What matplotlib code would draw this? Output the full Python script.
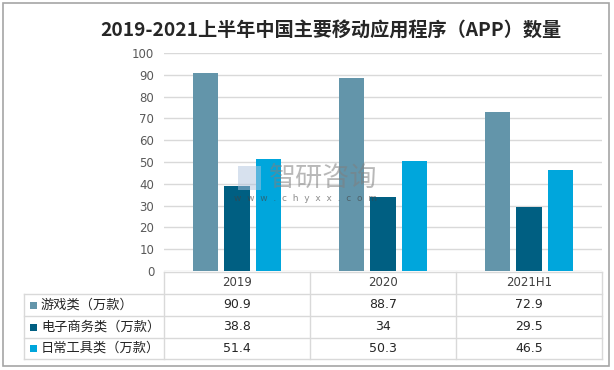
import matplotlib
matplotlib.use("Agg")
import matplotlib.pyplot as plt
from matplotlib.patches import Rectangle
from matplotlib.lines import Line2D

plt.rcParams['font.family'] = ['Noto Sans CJK SC', 'DejaVu Sans']

title = "2019-2021上半年中国主要移动应用程序（APP）数量"
categories = ["2019", "2020", "2021H1"]
series_names = ["游戏类（万款）", "电子商务类（万款）", "日常工具类（万款）"]
game = [90.9, 88.7, 72.9]
ecom = [38.8, 34, 29.5]
tools = [51.4, 50.3, 46.5]
value_labels = [["90.9", "88.7", "72.9"], ["38.8", "34", "29.5"], ["51.4", "50.3", "46.5"]]
yticks = [0, 10, 20, 30, 40, 50, 60, 70, 80, 90, 100]
colors = ["#6395AA", "#005F82", "#00A6DC"]

W, H = 614, 370
fig = plt.figure(figsize=(W / 100, H / 100), dpi=100)

def fx(px):
    return px / W

def fy(py):
    return 1 - py / H

# outer border
fig.patches.append(Rectangle((fx(3), fy(366)), fx(606), (363) / H, transform=fig.transFigure,
                             fill=False, edgecolor="#A6A6A6", linewidth=1.2))

x_left, x_right = 164, 602
y_top, y_zero = 53, 271
ax = fig.add_axes([fx(x_left), fy(y_zero), fx(x_right - x_left), (y_zero - y_top) / H])
series = [game, ecom, tools]
n = len(categories)
bw = 0.172
step = 0.218
for i, vals in enumerate(series):
    xs = [c + (i - 1) * step for c in range(n)]
    ax.bar(xs, vals, width=bw, color=colors[i], zorder=3)
ax.set_xlim(-0.5, n - 0.5)
ax.set_ylim(0, 100)
ax.set_yticks(yticks)
ax.set_yticklabels([str(t) for t in yticks], fontsize=8.5, color="#595959", family="DejaVu Sans")
ax.tick_params(axis='y', length=0, pad=7)
ax.set_xticks([])
ax.grid(axis='y', color="#D9D9D9", linewidth=1, zorder=0)
for s in ax.spines.values():
    s.set_visible(False)

fig.text(fx(331), fy(30), title, ha="center", va="center", fontsize=13.8, fontweight="bold", color="#262626")

# watermark
fig.text(fx(323), fy(178), "智研咨询", ha="center", va="center", fontsize=19.5, color="#7F7F7F", alpha=0.55, zorder=10)
fig.text(fx(305), fy(199), "w  w  w  .  c  h  y  x  x  .  c  o  m", ha="center", va="center", fontsize=6.5, color="#404040", alpha=0.6, zorder=10, family="DejaVu Sans")
fig.patches.append(Rectangle((fx(238), fy(190)), fx(23), 24 / H, transform=fig.transFigure,
                             facecolor="#B0C4DE", alpha=0.5, edgecolor="none", zorder=10))

# data table
col_edges = [x_left, 310, 456, x_right]
row_edges = [272, 294, 316, 338, 359]
tab_left = 24
lc = "#D9D9D9"

def hline(y, x0, x1):
    fig.lines.append(Line2D([fx(x0), fx(x1)], [fy(y), fy(y)], transform=fig.transFigure, color=lc, linewidth=1))

def vline(x, y0, y1):
    fig.lines.append(Line2D([fx(x), fx(x)], [fy(y0), fy(y1)], transform=fig.transFigure, color=lc, linewidth=1))

hline(row_edges[0], x_left, x_right)
for y in row_edges[1:]:
    hline(y, tab_left, x_right)
for x in col_edges:
    vline(x, row_edges[0], row_edges[-1])
vline(tab_left, row_edges[1], row_edges[-1])

for j, c in enumerate(categories):
    cx = (col_edges[j] + col_edges[j + 1]) / 2
    cy = (row_edges[0] + row_edges[1]) / 2
    fig.text(fx(cx), fy(cy), c, ha="center", va="center", fontsize=8.5, color="#404040", family="DejaVu Sans")

for i, name in enumerate(series_names):
    cy = (row_edges[i + 1] + row_edges[i + 2]) / 2
    fig.patches.append(Rectangle((fx(30), fy(cy + 3.5)), fx(7), 7 / H, transform=fig.transFigure,
                                 facecolor=colors[i], edgecolor="none"))
    fig.text(fx(41), fy(cy), name, ha="left", va="center", fontsize=9.5, color="#262626")
    for j in range(n):
        cx = (col_edges[j] + col_edges[j + 1]) / 2
        fig.text(fx(cx), fy(cy), value_labels[i][j], ha="center", va="center", fontsize=9, color="#262626", family="DejaVu Sans")

fig.savefig("out.png", dpi=100)
